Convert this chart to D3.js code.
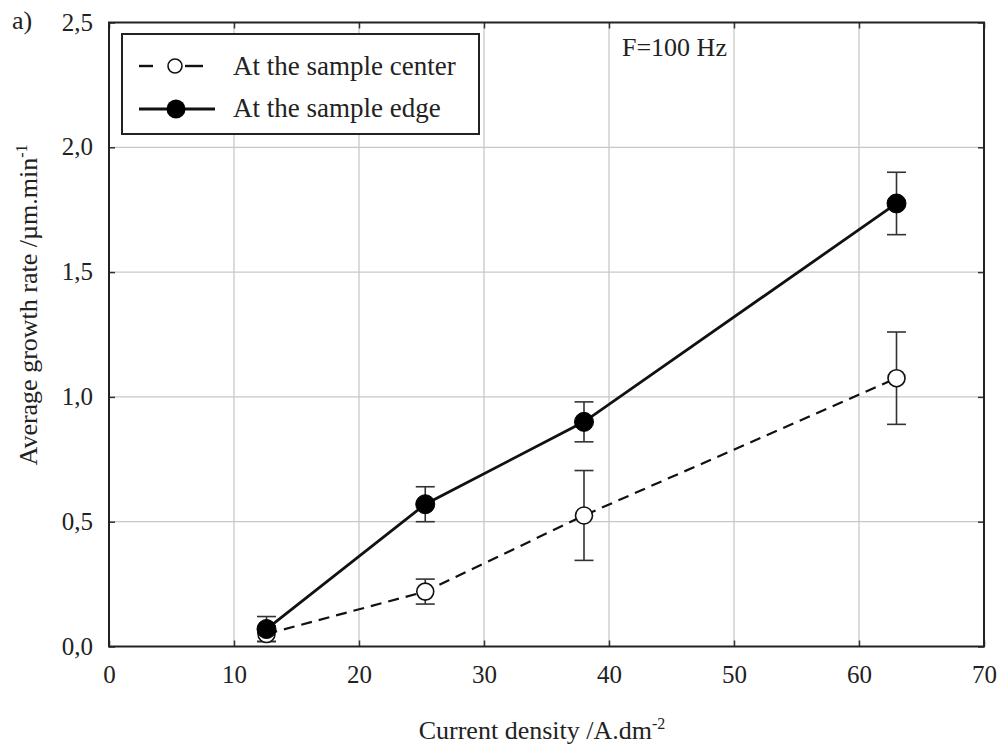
<!DOCTYPE html>
<html>
<head>
<meta charset="utf-8">
<script src="https://cdn.jsdelivr.net/npm/d3@7"></script>
<style>
  body { margin: 0; background: #fff; }
  text { font-family: "Liberation Serif", "DejaVu Serif", serif; fill: #222; }
</style>
</head>
<body>
<div id="chart"></div>
<script>
// data
const density = [12.6, 25.3, 38, 63];
const centerRate = [0.05, 0.22, 0.525, 1.075];
const centerErr = [0.03, 0.05, 0.18, 0.185];
const edgeRate = [0.07, 0.57, 0.9, 1.775];
const edgeErr = [0.05, 0.07, 0.08, 0.125];
const xTicks = [0, 10, 20, 30, 40, 50, 60, 70];
const yTicks = [0, 0.5, 1.0, 1.5, 2.0, 2.5];

const width = 1005, height = 751;
const margin = {left: 109, right: 21, top: 22.5, bottom: 104.5};
const w = width - margin.left - margin.right;
const h = height - margin.top - margin.bottom;

const svg = d3.select("#chart").append("svg")
    .attr("width", width)
    .attr("height", height);

const g = svg.append("g")
    .attr("transform", `translate(${margin.left},${margin.top})`);

const x = d3.scaleLinear().domain([0, 70]).range([0, w]);
const y = d3.scaleLinear().domain([0, 2.5]).range([h, 0]);

const fmt = d => d3.format(".1f")(d).replace(".", ",");

// grid
g.selectAll(".vgrid").data(xTicks.slice(1, -1)).enter().append("line")
    .attr("x1", d => x(d)).attr("x2", d => x(d))
    .attr("y1", 0).attr("y2", h)
    .attr("stroke", "#c8c8c8").attr("stroke-width", 1.3);
g.selectAll(".hgrid").data(yTicks.slice(1, -1)).enter().append("line")
    .attr("y1", d => y(d)).attr("y2", d => y(d))
    .attr("x1", 0).attr("x2", w)
    .attr("stroke", "#c8c8c8").attr("stroke-width", 1.3);

// axes with inward ticks on all sides
const axStyle = sel => {
    sel.select(".domain").remove();
    sel.selectAll(".tick line").attr("stroke", "#333").attr("stroke-width", 1.5);
    sel.selectAll("text").style("font-size", "25px").attr("fill", "#222");
};
g.append("g").attr("transform", `translate(0,${h})`)
    .call(d3.axisBottom(x).tickValues(xTicks).tickSizeInner(-6).tickSizeOuter(0).tickPadding(19))
    .call(axStyle);
g.append("g")
    .call(d3.axisLeft(y).tickValues(yTicks).tickFormat(fmt).tickSizeInner(-6).tickSizeOuter(0).tickPadding(16))
    .call(axStyle)
    .selectAll("text").attr("dy", "0.3em");
g.append("g")
    .call(d3.axisTop(x).tickValues(xTicks).tickSizeInner(-6).tickSizeOuter(0).tickFormat(""))
    .call(axStyle);
g.append("g").attr("transform", `translate(${w},0)`)
    .call(d3.axisRight(y).tickValues(yTicks).tickSizeInner(-6).tickSizeOuter(0).tickFormat(""))
    .call(axStyle);

g.append("rect")
    .attr("width", w).attr("height", h)
    .attr("fill", "none").attr("stroke", "#222").attr("stroke-width", 2);

// axis titles
svg.append("text")
    .attr("x", 542).attr("y", 739)
    .attr("text-anchor", "middle").style("font-size", "26px")
    .html('Current density /A.dm<tspan dy="-10" style="font-size:16px">-2</tspan>');
svg.append("text")
    .attr("transform", `translate(37,305) rotate(-90)`)
    .attr("text-anchor", "middle").style("font-size", "26px")
    .html('Average growth rate /µm.min<tspan dy="-10" style="font-size:16px">-1</tspan>');

svg.append("text").attr("x", 12).attr("y", 29).style("font-size", "26px").text("a)");

// series
const line = d3.line().x(d => x(d[0])).y(d => y(d[1]));
const centerPts = density.map((d, i) => [d, centerRate[i], centerErr[i]]);
const edgePts = density.map((d, i) => [d, edgeRate[i], edgeErr[i]]);

function errBars(pts) {
    const eb = g.append("g").attr("stroke", "#333").attr("stroke-width", 1.6);
    pts.forEach(p => {
        eb.append("line").attr("x1", x(p[0])).attr("x2", x(p[0]))
            .attr("y1", y(p[1] - p[2])).attr("y2", y(p[1] + p[2]));
        [p[1] - p[2], p[1] + p[2]].forEach(v => {
            eb.append("line").attr("x1", x(p[0]) - 9.5).attr("x2", x(p[0]) + 9.5)
                .attr("y1", y(v)).attr("y2", y(v));
        });
    });
}
errBars(centerPts);
errBars(edgePts);

g.append("path").datum(centerPts).attr("d", line)
    .attr("fill", "none").attr("stroke", "#111").attr("stroke-width", 2.2)
    .attr("stroke-dasharray", "11,7");
g.append("path").datum(edgePts).attr("d", line)
    .attr("fill", "none").attr("stroke", "#111").attr("stroke-width", 2.8);

g.selectAll(".cdot").data(centerPts).enter().append("circle")
    .attr("cx", d => x(d[0])).attr("cy", d => y(d[1])).attr("r", 8.5)
    .attr("fill", "#fff").attr("stroke", "#111").attr("stroke-width", 1.6);
g.selectAll(".edot").data(edgePts).enter().append("circle")
    .attr("cx", d => x(d[0])).attr("cy", d => y(d[1])).attr("r", 9.5)
    .attr("fill", "#000").attr("stroke", "#000").attr("stroke-width", 1);

// legend
const lg = svg.append("g");
lg.append("rect").attr("x", 122).attr("y", 34).attr("width", 357).attr("height", 100)
    .attr("fill", "#fff").attr("stroke", "#222").attr("stroke-width", 2);
[[139, 153], [185, 203]].forEach(s => {
    lg.append("line").attr("x1", s[0]).attr("x2", s[1]).attr("y1", 66).attr("y2", 66)
        .attr("stroke", "#111").attr("stroke-width", 2.4);
});
lg.append("circle").attr("cx", 175).attr("cy", 66).attr("r", 7)
    .attr("fill", "#fff").attr("stroke", "#111").attr("stroke-width", 1.6);
lg.append("line").attr("x1", 139).attr("x2", 215).attr("y1", 109).attr("y2", 109)
    .attr("stroke", "#111").attr("stroke-width", 2.8);
lg.append("circle").attr("cx", 176).attr("cy", 109).attr("r", 9.5).attr("fill", "#000");
lg.append("text").attr("x", 233).attr("y", 75).style("font-size", "27px").text("At the sample center");
lg.append("text").attr("x", 233).attr("y", 117).style("font-size", "27px").text("At the sample edge");

svg.append("text").attr("x", 622).attr("y", 56).style("font-size", "26px").text("F=100 Hz");
</script>
</body>
</html>
